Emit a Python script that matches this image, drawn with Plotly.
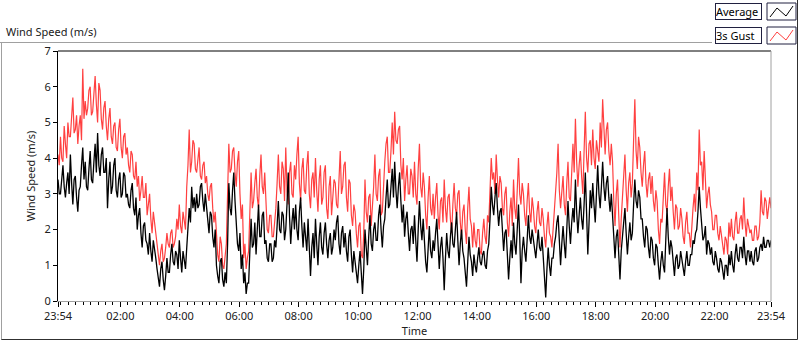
import pandas as pd
import plotly.graph_objects as go

# ---------------- data (2.5-minute samples) ----------------
start_time = "2024-01-01 23:54"
sample_seconds = 150

gust_3s = [
    4.1, 3.8, 4.6, 4.0, 3.9, 4.9, 4.4, 4.0,
    5.0, 4.6, 4.6, 5.3, 5.7, 4.7, 4.8, 5.2,
    4.4, 4.9, 5.2, 4.5, 6.5, 5.1, 5.6, 5.2,
    5.4, 5.9, 6.0, 5.2, 5.3, 5.8, 6.3, 5.5,
    5.0, 6.1, 5.9, 5.1, 4.8, 5.4, 5.6, 4.9,
    4.5, 5.1, 5.4, 4.6, 4.4, 4.9, 5.0, 4.3,
    4.2, 4.8, 5.1, 4.3, 4.0, 4.6, 4.7, 4.1,
    4.3, 3.8, 3.6, 4.2, 4.1, 3.5, 3.4, 3.9,
    3.2, 3.5, 2.8, 3.1, 3.5, 2.9, 2.9, 3.3,
    2.4, 2.7, 3.0, 2.3, 1.9, 2.5, 2.2, 1.8,
    1.5, 1.2, 1.0, 1.4, 1.6, 1.1, 1.2, 1.5,
    1.9, 1.6, 1.5, 1.9, 2.0, 1.5, 1.6, 1.8,
    2.3, 2.0, 2.7, 2.1, 1.9, 2.5, 2.3, 2.0,
    3.2, 3.8, 4.8, 3.6, 3.9, 4.5, 4.4, 3.7,
    3.6, 4.1, 4.3, 3.5, 3.4, 3.8, 3.9, 3.3,
    3.5, 3.0, 2.8, 3.2, 3.3, 2.6, 2.2, 2.5,
    1.7, 1.3, 1.1, 1.8, 1.6, 1.0, 0.9, 1.2,
    1.6, 3.0, 4.4, 3.6, 3.7, 4.2, 4.3, 3.6,
    3.2, 3.9, 4.2, 3.0, 2.3, 2.7, 1.2, 1.6,
    0.9, 1.2, 1.4, 2.5, 3.6, 2.6, 2.8, 3.3,
    3.7, 2.9, 2.6, 3.5, 4.1, 3.2, 3.0, 3.6,
    2.5, 2.0, 1.9, 2.4, 2.4, 1.8, 1.8, 2.2,
    2.6, 3.3, 4.1, 3.2, 3.0, 3.9, 3.7, 2.8,
    4.3, 3.1, 2.7, 3.6, 3.9, 3.0, 2.9, 3.8,
    3.4, 4.1, 4.6, 3.3, 2.8, 3.7, 4.0, 3.1,
    3.0, 3.8, 4.2, 3.0, 2.6, 3.4, 3.6, 2.9,
    4.0, 3.1, 2.5, 3.4, 3.8, 2.7, 2.9, 3.6,
    3.8, 2.6, 2.3, 3.2, 3.5, 2.4, 2.8, 3.4,
    3.3, 2.7, 2.6, 3.6, 4.2, 3.0, 3.2, 3.8,
    3.9, 2.9, 2.5, 3.4, 3.3, 2.4, 2.1, 2.7,
    2.5, 1.9, 1.5, 2.1, 2.2, 1.3, 1.2, 1.9,
    3.4, 2.5, 2.2, 2.9, 3.0, 2.1, 2.6, 3.2,
    4.1, 3.0, 2.8, 3.5, 3.7, 2.4, 2.5, 3.4,
    3.9, 4.4, 4.6, 3.6, 3.6, 4.2, 5.0, 4.1,
    5.3, 4.5, 4.4, 4.8, 4.9, 3.8, 3.4, 4.0,
    2.8, 3.4, 3.8, 3.0, 3.0, 3.7, 3.5, 2.9,
    3.9, 3.0, 2.7, 3.7, 4.4, 3.2, 2.9, 3.6,
    3.2, 2.4, 2.0, 2.9, 3.5, 2.6, 2.4, 3.0,
    2.3, 2.9, 3.3, 2.4, 2.0, 2.8, 2.9, 2.2,
    3.4, 2.6, 2.2, 2.9, 3.0, 2.3, 1.9, 2.7,
    3.3, 2.6, 2.4, 3.0, 3.1, 2.2, 1.8, 2.5,
    2.7, 2.0, 1.6, 2.6, 3.2, 2.3, 2.1, 1.5,
    2.2, 1.7, 1.5, 2.0, 2.0, 1.4, 1.3, 1.9,
    2.3, 1.8, 1.6, 2.4, 2.2, 3.1, 4.0, 3.4,
    3.6, 3.0, 4.1, 3.4, 2.9, 3.5, 3.3, 2.6,
    2.4, 3.0, 3.2, 2.2, 1.8, 2.5, 2.9, 2.1,
    3.4, 2.6, 2.3, 3.1, 4.0, 3.0, 2.7, 3.3,
    3.0, 2.4, 2.1, 2.8, 3.3, 2.5, 2.2, 2.9,
    2.6, 2.1, 1.9, 2.5, 2.8, 2.2, 2.1, 2.6,
    2.3, 1.8, 1.5, 2.1, 2.5, 1.9, 1.8, 1.5,
    2.0, 2.6, 2.9, 3.6, 4.4, 3.1, 2.6, 3.2,
    3.5, 2.7, 2.4, 3.3, 3.9, 2.9, 2.8, 3.6,
    4.4, 3.6, 5.1, 3.9, 3.2, 3.8, 4.2, 3.5,
    3.0, 4.2, 5.3, 4.0, 3.6, 4.4, 4.5, 3.8,
    4.8, 4.0, 3.7, 4.5, 4.2, 3.9, 5.0, 4.3,
    5.65, 4.6, 4.1, 4.8, 5.0, 4.2, 3.8, 4.4,
    3.9, 2.8, 2.1, 3.0, 3.4, 2.4, 1.5, 2.3,
    3.0, 3.6, 4.1, 3.1, 2.5, 3.3, 3.6, 2.9,
    3.3, 4.5, 5.65, 4.2, 3.7, 4.6, 4.3, 3.6,
    3.2, 3.8, 4.2, 3.3, 2.9, 3.4, 3.6, 3.0,
    3.5, 2.8, 2.5, 3.1, 2.8, 2.0, 1.6, 2.3,
    2.2, 2.9, 3.6, 2.7, 2.5, 3.2, 3.7, 2.8,
    3.2, 2.5, 2.0, 2.7, 2.6, 2.0, 2.1, 2.6,
    2.3, 1.8, 1.6, 2.2, 2.5, 1.9, 1.9, 1.5,
    2.2, 2.6, 3.0, 2.5, 3.6, 3.1, 4.8, 3.8,
    3.9, 3.1, 4.2, 3.4, 2.6, 3.0, 3.2, 2.7,
    2.5, 2.0, 2.0, 2.4, 2.4, 1.9, 1.7, 2.1,
    1.8, 1.5, 1.3, 1.8, 1.7, 1.3, 2.2, 1.8,
    2.3, 1.8, 1.7, 2.2, 2.5, 1.9, 1.9, 2.3,
    2.4, 2.0, 2.9, 2.2, 1.8, 2.3, 2.1, 1.9,
    2.0, 1.7, 1.7, 2.1, 2.1, 1.7, 1.8, 2.2,
    3.1, 2.5, 2.4, 2.9, 2.8, 2.3, 2.6, 2.9,
    2.6,
]

average = [
    3.4, 3.0, 3.0, 3.5, 3.8, 3.2, 2.9, 3.3,
    3.6, 3.0, 4.1, 3.3, 2.7, 3.4, 3.5, 2.9,
    2.5, 3.1, 3.2, 3.8, 4.3, 3.4, 3.9, 3.2,
    3.1, 3.7, 4.2, 3.4, 3.3, 3.9, 4.4, 3.6,
    4.7, 3.8, 3.5, 4.1, 4.3, 3.6, 3.6, 4.0,
    2.6, 3.4, 3.9, 3.0, 3.2, 3.8, 4.0, 3.1,
    2.9, 3.4, 3.6, 2.9, 3.0, 3.6, 3.5, 2.9,
    3.0, 2.7, 2.6, 3.1, 3.3, 2.6, 2.4, 2.9,
    2.0, 2.4, 2.6, 1.9, 1.5, 2.1, 2.2, 1.7,
    1.6, 1.3, 1.9, 1.4, 1.1, 1.7, 1.5, 1.2,
    0.9, 0.6, 0.4, 0.9, 1.1, 0.6, 0.3, 0.7,
    1.2, 0.8, 0.8, 1.3, 1.6, 1.1, 1.0, 1.4,
    1.3, 0.9, 1.7, 1.2, 0.8, 1.4, 1.2, 0.9,
    1.5, 2.1, 2.6, 2.2, 3.2, 2.6, 2.9, 2.5,
    3.0, 2.6, 2.7, 3.2, 3.3, 2.8, 2.5, 3.0,
    2.6, 2.1, 1.9, 2.5, 2.4, 1.8, 1.5, 2.0,
    1.0, 0.7, 0.5, 1.1, 1.2, 0.6, 0.4, 0.8,
    0.5, 1.6, 3.3, 2.6, 2.4, 3.1, 3.6, 2.8,
    2.1, 1.6, 1.4, 1.9, 0.9, 1.3, 0.5, 0.8,
    0.2, 0.5, 0.5, 1.6, 2.3, 1.5, 1.6, 2.2,
    1.3, 2.0, 2.7, 1.8, 1.8, 2.4, 2.5, 1.6,
    1.7, 1.2, 1.1, 1.6, 1.6, 1.1, 1.2, 1.7,
    1.5, 2.1, 2.8, 2.0, 1.9, 2.5, 2.4, 1.7,
    2.0, 2.7, 3.6, 2.4, 1.6, 2.2, 2.6, 2.0,
    2.7, 2.0, 1.7, 2.5, 2.9, 2.1, 1.5, 2.2,
    1.8, 1.4, 2.3, 1.6, 0.7, 1.5, 1.9, 1.2,
    2.3, 1.6, 1.0, 1.8, 2.2, 1.5, 1.3, 1.9,
    2.2, 1.6, 1.2, 1.7, 1.9, 1.3, 1.5, 2.0,
    1.7, 2.2, 2.4, 1.6, 1.3, 1.9, 2.1, 1.5,
    1.9, 1.4, 1.1, 1.8, 2.0, 1.3, 0.8, 1.4,
    1.1, 0.7, 0.5, 1.0, 1.4, 0.8, 0.2, 0.9,
    2.0, 1.5, 1.0, 1.8, 2.4, 1.6, 1.4, 2.0,
    2.2, 1.7, 1.7, 2.4, 2.7, 2.0, 1.5, 2.1,
    2.3, 2.9, 3.4, 2.6, 2.7, 3.2, 3.7, 2.9,
    3.9, 3.1, 2.6, 3.2, 3.6, 2.8, 2.2, 2.7,
    1.8, 2.3, 2.5, 1.9, 1.4, 2.0, 2.1, 1.6,
    2.4, 1.7, 1.1, 2.0, 2.8, 2.1, 1.7, 2.3,
    1.6, 1.1, 0.8, 1.5, 2.1, 1.4, 1.2, 1.7,
    1.4, 1.9, 2.3, 1.6, 0.9, 1.5, 1.8, 1.2,
    0.3, 1.2, 1.9, 1.4, 1.2, 1.8, 2.2, 1.6,
    1.5, 2.0, 2.5, 1.7, 1.0, 1.6, 2.0, 1.4,
    1.2, 0.8, 0.4, 1.1, 1.8, 1.3, 1.1, 0.7,
    1.3, 1.0, 0.8, 1.2, 1.5, 1.1, 1.0, 1.3,
    1.4, 1.0, 0.9, 1.4, 1.6, 2.3, 3.2, 2.7,
    2.4, 2.9, 3.3, 2.6, 2.1, 2.5, 2.6, 2.0,
    1.4, 1.9, 2.0, 1.3, 0.6, 1.2, 1.7, 1.2,
    2.2, 1.6, 1.3, 2.0, 2.7, 1.8, 0.5, 1.4,
    1.8, 1.4, 1.1, 1.7, 2.4, 1.8, 1.6, 2.0,
    1.7, 1.4, 1.2, 1.6, 2.0, 1.5, 1.4, 1.8,
    1.1, 0.6, 0.1, 0.9, 1.5, 1.0, 0.7, 1.2,
    1.2, 1.6, 1.8, 2.2, 2.4, 1.7, 1.0, 1.6,
    2.1, 1.6, 1.2, 2.0, 2.8, 2.1, 1.6, 2.2,
    2.6, 2.2, 3.4, 2.5, 1.9, 2.4, 2.9, 2.3,
    2.0, 2.7, 3.6, 2.5, 1.3, 2.2, 3.1, 2.6,
    3.3, 2.7, 2.2, 3.0, 3.8, 3.0, 2.6, 3.2,
    3.9, 3.2, 2.8, 3.3, 3.5, 2.9, 2.5, 3.0,
    2.3, 1.7, 1.2, 1.8, 2.0, 1.3, 0.6, 1.4,
    1.8, 2.2, 2.6, 1.9, 1.3, 1.8, 2.2, 1.7,
    1.9, 2.7, 3.4, 2.8, 2.6, 3.1, 2.9, 2.3,
    2.3, 1.8, 1.5, 2.1, 2.0, 1.5, 1.2, 1.8,
    1.7, 1.2, 1.0, 1.6, 1.5, 1.0, 0.6, 1.1,
    1.4, 1.0, 0.8, 1.7, 2.6, 1.8, 1.3, 1.7,
    1.5, 1.1, 0.7, 1.2, 1.3, 0.9, 1.0, 1.4,
    1.2, 0.9, 0.7, 1.1, 1.4, 1.0, 1.0, 1.3,
    1.3, 1.7, 1.6, 1.9, 2.0, 2.5, 3.2, 2.6,
    2.2, 1.7, 1.8, 2.1, 1.3, 1.7, 1.6, 1.3,
    1.5, 1.1, 1.0, 1.4, 1.2, 0.9, 0.8, 1.2,
    1.1, 0.8, 0.6, 1.0, 1.0, 0.7, 1.3, 1.0,
    1.4, 1.0, 0.8, 1.3, 1.6, 1.2, 1.1, 1.5,
    1.5, 1.2, 1.8, 1.3, 1.0, 1.4, 1.4, 1.1,
    1.4, 1.1, 1.0, 1.4, 1.5, 1.1, 1.2, 1.5,
    1.6, 1.4, 1.8, 1.5, 1.5, 1.7, 1.7, 1.5,
    1.7,
]

tick_times = ["2024-01-01 23:54", "2024-01-02 02:00", "2024-01-02 04:00",
              "2024-01-02 06:00", "2024-01-02 08:00", "2024-01-02 10:00",
              "2024-01-02 12:00", "2024-01-02 14:00", "2024-01-02 16:00",
              "2024-01-02 18:00", "2024-01-02 20:00", "2024-01-02 22:00",
              "2024-01-02 23:54"]
tick_labels = ["23:54", "02:00", "04:00", "06:00", "08:00", "10:00", "12:00",
               "14:00", "16:00", "18:00", "20:00", "22:00", "23:54"]
y_ticks = [0, 1, 2, 3, 4, 5, 6, 7]

series_names = ["Average", "3s Gust"]
series_colors = ["#000000", "#ff4040"]

# ---------------- figure ----------------
t_avg = pd.date_range(start_time, periods=len(average), freq=f"{sample_seconds}s")
t_gust = pd.date_range(start_time, periods=len(gust_3s), freq=f"{sample_seconds}s")

W, H = 800, 342
PL, PR, PT, PB = 58, 771, 51, 301
FONT = "Noto Sans"
FS = 11
TXT = "#202020"


def px(x):
    return (x - PL) / (PR - PL)


def py(y):
    return (PB - y) / (PB - PT)


fig = go.Figure()
fig.add_trace(go.Scatter(x=t_gust, y=gust_3s, mode="lines", name=series_names[1],
                         line=dict(color=series_colors[1], width=1.2)))
fig.add_trace(go.Scatter(x=t_avg, y=average, mode="lines", name=series_names[0],
                         line=dict(color=series_colors[0], width=1.3)))

shapes = []
# plot frame: top black, right gray
shapes.append(dict(type="line", xref="paper", yref="paper", x0=0, x1=1, y0=1, y1=1,
                   line=dict(color="#000000", width=1)))
shapes.append(dict(type="line", xref="paper", yref="paper", x0=1, x1=1, y0=0, y1=1,
                   line=dict(color="#a0a0a0", width=1)))
# outer panel
shapes.append(dict(type="line", xref="paper", yref="paper", x0=px(0), x1=px(712),
                   y0=py(42.5), y1=py(42.5), line=dict(color="#a0a0a0", width=1)))
shapes.append(dict(type="line", xref="paper", yref="paper", x0=px(1.5), x1=px(1.5),
                   y0=py(42.5), y1=py(340), line=dict(color="#a0a0a0", width=1)))
shapes.append(dict(type="line", xref="paper", yref="paper", x0=px(1.5), x1=px(797.5),
                   y0=py(339.5), y1=py(339.5), line=dict(color="#303030", width=1)))
shapes.append(dict(type="line", xref="paper", yref="paper", x0=px(797.5), x1=px(797.5),
                   y0=py(0), y1=py(339.5), line=dict(color="#303030", width=1)))

annotations = [
    dict(text="Wind Speed (m/s)", xref="paper", yref="paper", x=px(4), y=py(32),
         xanchor="left", yanchor="middle", showarrow=False,
         font=dict(family=FONT, size=FS, color=TXT)),
]

# custom legend (text box + line sample box)
for i, (name, col) in enumerate(zip(series_names, series_colors)):
    top = 3 + 24 * i
    annotations.append(dict(text=name, xref="paper", yref="paper", x=px(715), y=py(top),
                            xanchor="left", yanchor="top", showarrow=False, align="left",
                            width=45, height=15, borderpad=0, borderwidth=1,
                            bordercolor="#202040", bgcolor="#ffffff",
                            font=dict(family=FONT, size=FS, color="#000000")))
    shapes.append(dict(type="rect", xref="paper", yref="paper", x0=px(767), x1=px(796),
                       y0=py(top), y1=py(top + 17), fillcolor="#ffffff",
                       line=dict(color="#202040", width=1)))
    pts = [(770, top + 14), (777, top + 5), (786, top + 13), (793, top + 3)]
    path = "M " + " L ".join(f"{px(a):.5f},{py(b):.5f}" for a, b in pts)
    shapes.append(dict(type="path", xref="paper", yref="paper", path=path,
                       line=dict(color=col, width=1)))

fig.update_layout(
    width=W, height=H,
    margin=dict(l=PL, r=W - PR, t=PT, b=H - PB, autoexpand=False),
    paper_bgcolor="#ffffff", plot_bgcolor="#ffffff",
    showlegend=False,
    font=dict(family=FONT, size=FS, color=TXT),
    shapes=shapes, annotations=annotations,
)
fig.update_xaxes(
    range=[tick_times[0], tick_times[-1]],
    tickmode="array", tickvals=tick_times, ticktext=tick_labels,
    ticks="outside", ticklen=5, tickcolor="#000000",
    minor=dict(tickmode="linear", tick0="2024-01-02 00:00", dtick=15 * 60 * 1000,
               ticks="outside", ticklen=3, tickcolor="#000000", showgrid=False),
    showline=True, linecolor="#a0a0a0", linewidth=1,
    showgrid=False, zeroline=False, automargin=False,
    tickfont=dict(family=FONT, size=FS, color=TXT),
    title=dict(text="Time", standoff=0, font=dict(family=FONT, size=FS, color=TXT)),
)
fig.update_yaxes(
    range=[0, 7], tickmode="array", tickvals=y_ticks,
    ticks="outside", ticklen=4, tickcolor="#000000",
    showline=True, linecolor="#000000", linewidth=1,
    showgrid=False, zeroline=False, automargin=False,
    tickfont=dict(family=FONT, size=FS, color=TXT),
    title=dict(text="Wind Speed (m/s)", standoff=6,
               font=dict(family=FONT, size=FS, color=TXT)),
)

fig.write_html("out.html", config={"displayModeBar": False},
               post_script="document.body.style.margin='0';")
